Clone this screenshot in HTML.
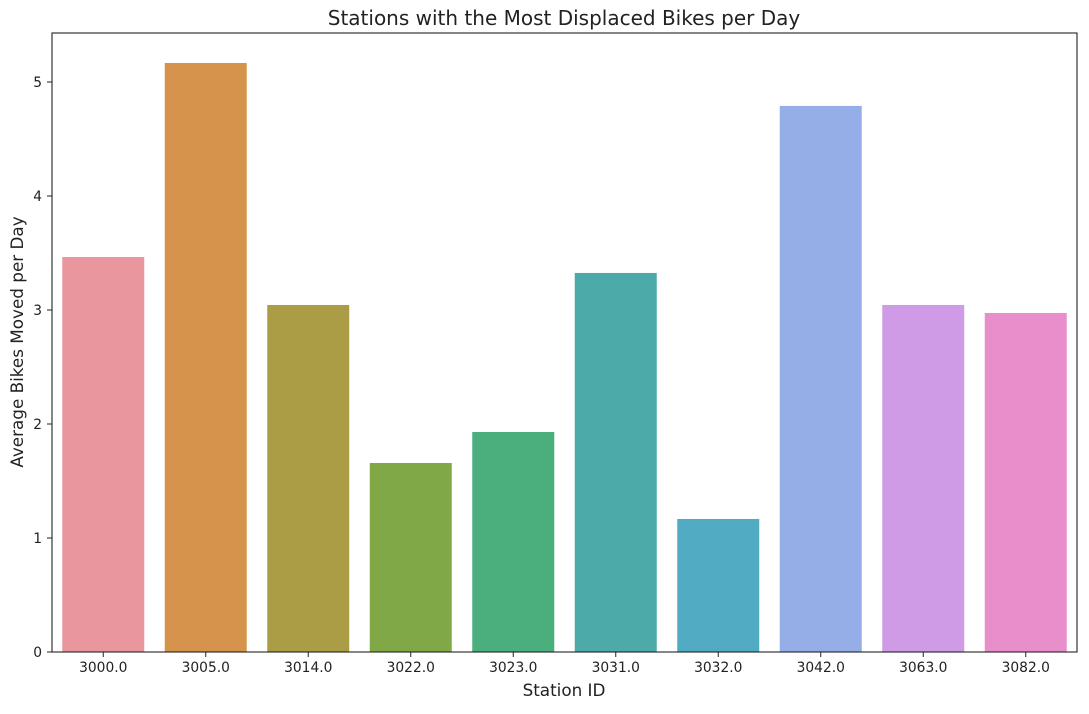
<!DOCTYPE html>
<html><head><meta charset="utf-8"><style>
body{margin:0;background:#fff;}
svg text{font-family:"DejaVu Sans","Liberation Sans",sans-serif;fill:#222;}
</style></head><body>
<svg id="chart" width="1089" height="709" xmlns="http://www.w3.org/2000/svg">
<rect x="0" y="0" width="1089" height="709" fill="#fff"/>
<g id="bars"></g>
<g id="axes"></g>
<text x="564" y="25" text-anchor="middle" font-size="20">Stations with the Most Displaced Bikes per Day</text>
<text x="564" y="696" text-anchor="middle" font-size="16.8">Station ID</text>
<text transform="translate(23,342) rotate(-90)" text-anchor="middle" font-size="16.8">Average Bikes Moved per Day</text>
</svg>
<script>
const categories=["3000.0","3005.0","3014.0","3022.0","3023.0","3031.0","3032.0","3042.0","3063.0","3082.0"];
const values=[3.465,5.167,3.044,1.658,1.93,3.325,1.167,4.79,3.044,2.974];
const colors=["#e9969f","#d5934c","#aa9d46","#80a846","#4bae7d","#4caba8","#51abc3","#96aee8","#cf9ae6","#e88fcb"];
const yTicks=[0,1,2,3,4,5];
const L=52,R=1077,T=33,B=652;
const ys=v=>B-v*114;
const band=(R-L)/categories.length;
const xs=i=>L+band*i+band/2;
const NS="http://www.w3.org/2000/svg";
const bars=document.getElementById('bars'),axes=document.getElementById('axes');
function mk(tag,attrs,parent){const e=document.createElementNS(NS,tag);for(const k in attrs)e.setAttribute(k,attrs[k]);parent.appendChild(e);return e;}
values.forEach((v,i)=>{
 const r=mk('rect',{x:xs(i)-band*0.4,y:ys(v),width:band*0.8,height:B-ys(v),fill:colors[i]},bars);
 
 
 mk('line',{x1:xs(i),x2:xs(i),y1:B,y2:B+5,stroke:'#222'},axes);
 const t=mk('text',{x:xs(i),y:B+20,'text-anchor':'middle','font-size':13.8},axes);
 t.textContent=categories[i];
 
 
});
yTicks.forEach(v=>{
 mk('line',{x1:L-5,x2:L,y1:ys(v),y2:ys(v),stroke:'#222'},axes);
 const t=mk('text',{x:L-10,y:ys(v)+5,'text-anchor':'end','font-size':13.8},axes);
 t.textContent=v;
 
 
});
const f=mk('rect',{x:L,y:T,width:R-L,height:B-T,fill:'none',stroke:'#222','stroke-width':1.1},axes);


</script>
</body></html>
